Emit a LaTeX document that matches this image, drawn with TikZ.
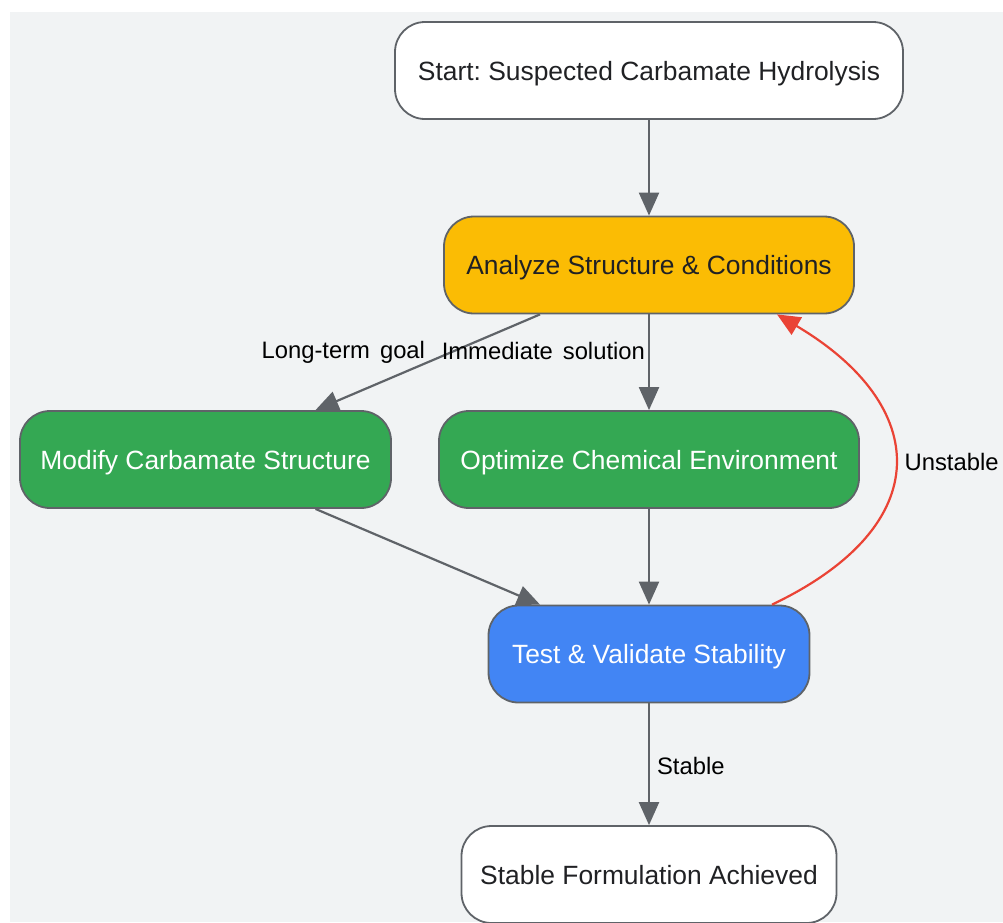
\documentclass[tikz,border=0pt]{standalone}
\usepackage{fontspec}
\setmainfont{Liberation Sans}
\usepackage{xcolor}
\usetikzlibrary{arrows.meta}
\definecolor{bggray}{HTML}{F1F3F4}
\definecolor{linegray}{HTML}{5F6368}
\definecolor{txtdark}{HTML}{202124}
\definecolor{ambre}{HTML}{FBBC04}
\definecolor{gruen}{HTML}{34A853}
\definecolor{blau}{HTML}{4285F4}
\definecolor{rot}{HTML}{EA4335}
\frenchspacing

\begin{document}
\begin{tikzpicture}[x=1pt,y=-1pt,
    box/.style={draw=linegray,line width=1.8pt,rounded corners=30pt,minimum height=97pt,
        text height=22.5pt,text depth=3pt,font=\fontsize{26.4}{30}\selectfont,text=txtdark},
    flow/.style={draw=linegray,line width=2.2pt,-{Triangle[length=23pt,width=20pt]}},
    lbl/.style={font=\fontsize{23.8}{28}\selectfont,text=black,inner sep=1pt}]
        \useasboundingbox (0,0) rectangle (1003,922);
        \fill[bggray] (10,12) rectangle (1003,922);
        % nodes
        \node[box,fill=white,minimum width=508pt] (start) at (649,70.5) {Start: Suspected Carbamate Hydrolysis};
        \node[box,fill=ambre,minimum width=410pt] (ana) at (649,265) {Analyze Structure \& Conditions};
        \node[box,fill=gruen,text=white,minimum width=371pt] (mod) at (205.5,459.5) {Modify Carbamate Structure};
        \node[box,fill=gruen,text=white,minimum width=420pt] (opt) at (649,459.5) {Optimize Chemical Environment};
        \node[box,fill=blau,text=white,minimum width=321pt] (test) at (649,654) {Test \& Validate Stability};
        \node[box,fill=white,minimum width=375pt] (done) at (649,874.5) {Stable Formulation Achieved};
        % edges
        \draw[flow] (start) -- (ana);
        \draw[flow] ([xshift=-109pt]ana.south) -- node[lbl,pos=0.378,anchor=east,xshift=-28pt,yshift=-2pt]{Long-term\hskip 10pt goal} ([xshift=110pt]mod.north);
        \draw[flow] (ana) -- node[lbl,pos=0.378,anchor=east,xshift=-2pt]{Immediate\hskip 10pt solution} (opt);
        \draw[flow] ([xshift=110pt]mod.south) -- ([xshift=-109pt]test.north);
        \draw[flow] (opt) -- (test);
        \draw[flow,draw=rot,-{Triangle[length=23pt,width=20pt,fill=rot]}] ([xshift=123pt]test.north) .. controls (939,525) and (930,405) .. node[lbl,pos=0.5,anchor=west,xshift=8pt,yshift=2pt]{Unstable} ([xshift=128pt]ana.south);
        \draw[flow] (test) -- node[lbl,pos=0.5,anchor=west,xshift=6pt,yshift=-2pt]{Stable} (done);
\end{tikzpicture}
\end{document}
